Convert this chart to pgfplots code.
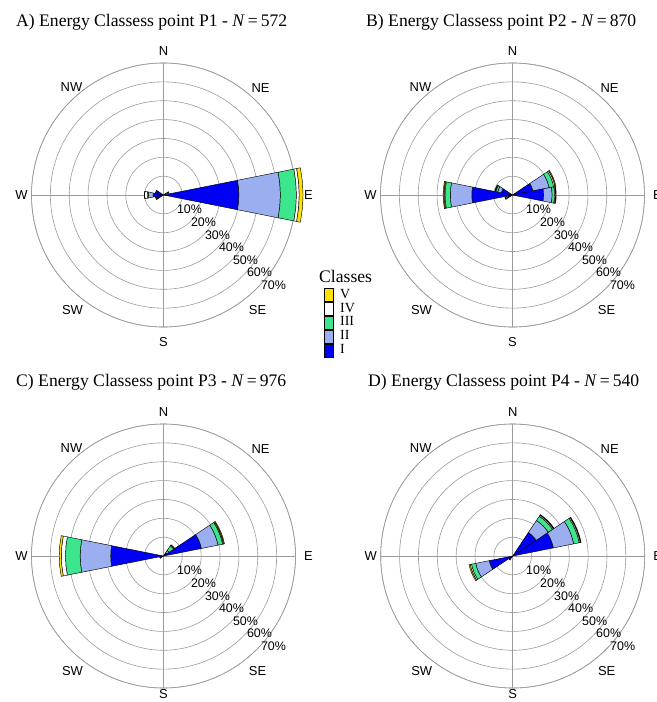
\documentclass[border=0pt]{standalone}
\usepackage{pgfplots}
\usepackage{pgfplotstable}
\pgfplotsset{compat=1.18}
\usepgfplotslibrary{polar}
\usepackage{fontspec}
\setmainfont{Liberation Serif}
\newfontfamily\arialf{Liberation Sans}

\definecolor{cI}{RGB}{0,0,245}
\definecolor{cII}{RGB}{155,175,240}
\definecolor{cIII}{RGB}{60,230,140}
\definecolor{cIV}{RGB}{255,255,255}
\definecolor{cV}{RGB}{255,225,0}
\definecolor{gridc}{RGB}{155,155,155}

% cumulative percentages per class (I..V), dir = compass degrees
\pgfplotstableread{
dir I II III IV V
90 40 62 70.5 72 74
270 5.5 8 8.5 10 10.2
292.5 4 4.3 4.3 4.3 4.3
247.5 4 4.3 4.3 4.3 4.3
67.5 1.5 2.3 3 3 3
}\tabA
\pgfplotstableread{
dir I II III IV V
270 21.6 33 35.8 36.3 36.8
292.5 6 8 9 9.3 9.6
247.5 2.5 3.2 3.8 4 4.2
67.5 11 19.8 22.3 23 23.5
90 16.5 21 22.3 22.8 23.2
}\tabB
\pgfplotstableread{
dir I II III IV V
270 28 44.2 52 54.2 55.3
67.5 20.5 29.5 32 32.5 33
45 2 3.5 6.5 7 7.2
247.5 1.8 2 2 2 2
}\tabC
\pgfplotstableread{
dir I II III IV V
67.5 22 33 36 36.6 37
45 15 22.7 25.4 26 26.4
247.5 12.7 20 22.3 23 23.6
225 2 2.5 2.5 2.5 2.5
}\tabD

\newcommand{\sector}[4]{%
  \pgfmathsetmacro\aA{#1-11.25}%
  \pgfmathsetmacro\aB{#1-5.625}%
  \pgfmathsetmacro\aC{#1}%
  \pgfmathsetmacro\aD{#1+5.625}%
  \pgfmathsetmacro\aE{#1+11.25}%
  \edef\sectorcmd{\noexpand\addplot[forget plot, draw=black, line width=0.45pt, fill=#4, line join=round] coordinates {(\aA,#2) (\aA,#3) (\aB,#3) (\aC,#3) (\aD,#3) (\aE,#3) (\aE,#2) (\aD,#2) (\aC,#2) (\aB,#2) (\aA,#2)};}%
  \sectorcmd}
\newcommand{\petal}[6]{%
  \pgfmathsetmacro\petalth{90-#1}%
  \sector{\petalth}{0}{#2}{cI}%
  \sector{\petalth}{#2}{#3}{cII}%
  \sector{\petalth}{#3}{#4}{cIII}%
  \sector{\petalth}{#4}{#5}{cIV}%
  \sector{\petalth}{#5}{#6}{cV}}
\newcommand{\drawrose}[1]{%
  \pgfplotstablegetrowsof{#1}%
  \pgfmathtruncatemacro\lastrow{\pgfplotsretval-1}%
  \pgfplotsforeachungrouped \rr in {0,...,\lastrow}{%
    \pgfplotstablegetelem{\rr}{dir}\of{#1}\let\pD\pgfplotsretval
    \pgfplotstablegetelem{\rr}{I}\of{#1}\let\pA\pgfplotsretval
    \pgfplotstablegetelem{\rr}{II}\of{#1}\let\pB\pgfplotsretval
    \pgfplotstablegetelem{\rr}{III}\of{#1}\let\pC\pgfplotsretval
    \pgfplotstablegetelem{\rr}{IV}\of{#1}\let\pE\pgfplotsretval
    \pgfplotstablegetelem{\rr}{V}\of{#1}\let\pF\pgfplotsretval
    \petal{\pD}{\pA}{\pB}{\pC}{\pE}{\pF}}}

\pgfplotsset{rose/.style={
  scale only axis, width=264bp, height=264bp,
  ymin=0, ymax=70,
  xtick={0,90,180,270}, xticklabels={}, xticklabel={\mbox{}},
  ytick={10,20,...,70}, yticklabels={}, yticklabel={\mbox{}},
  grid=major, major grid style={gridc, line width=0.6pt},
  axis line style={gridc, line width=0.6pt},
  major tick length=0pt,
  clip=false, anchor=center,
}}

\newcommand{\decor}[3]{%
 \begin{scope}[shift={(#1bp,-#2bp)}, font=\arialf\fontsize{13}{13}\selectfont]
  \node at (0bp,144bp) {N};
  \node at (0bp,#3bp) {S};
  \node at (145bp,0bp) {E};
  \node at (-142bp,0bp) {W};
  \node at (97bp,107bp) {NE};
  \node at (-92bp,108bp) {NW};
  \node at (94bp,-115bp) {SE};
  \node at (-91bp,-115bp) {SW};
 \end{scope}
 \begin{scope}[shift={(#1bp,-#2bp)}, font=\arialf\fontsize{12.5}{12.5}\selectfont, inner sep=0pt]
  \node at (26bp,-14.6bp) {10\%};
  \node at (40bp,-27.2bp) {20\%};
  \node at (54bp,-39.8bp) {30\%};
  \node at (68bp,-52.4bp) {40\%};
  \node at (82bp,-65bp) {50\%};
  \node at (96bp,-77.6bp) {60\%};
  \node at (110bp,-90.2bp) {70\%};
 \end{scope}}

\begin{document}
\begin{tikzpicture}
\path[use as bounding box] (0,0) rectangle (657bp,-702bp);

\begin{polaraxis}[rose, at={(163.5bp,-195bp)},
  legend style={at={(axis description cs:1.109,0.1477)}, anchor=north west,
    draw=none, fill=none, inner sep=0pt, outer sep=0pt, row sep=0pt,
    font=\fontsize{14}{14}\selectfont,
    nodes={inner sep=0pt, text height=9.9bp, text depth=3.5bp},
    /tikz/every odd column/.append style={column sep=7bp}},
  legend cell align=left,
  legend image code/.code={\draw[#1, line width=0.5pt] (0bp,-6.7bp) rectangle (8.4bp,6.7bp);}]
\drawrose{\tabA}
\addlegendimage{fill=cV, draw=black}\addlegendentry{V}
\addlegendimage{fill=cIV, draw=black}\addlegendentry{IV}
\addlegendimage{fill=cIII, draw=black}\addlegendentry{III}
\addlegendimage{fill=cII, draw=black}\addlegendentry{II}
\addlegendimage{fill=cI, draw=black}\addlegendentry{I}
\end{polaraxis}

\begin{polaraxis}[rose, at={(512.5bp,-195bp)}]
\drawrose{\tabB}
\end{polaraxis}

\begin{polaraxis}[rose, at={(163.5bp,-556bp)}]
\drawrose{\tabC}
\end{polaraxis}

\begin{polaraxis}[rose, at={(512.7bp,-556bp)}]
\drawrose{\tabD}
\end{polaraxis}

\decor{163.5}{195}{-147}
\decor{512.5}{195}{-147}
\decor{163.5}{556}{-138}
\decor{512.7}{556}{-138}

\node[anchor=base west, font=\fontsize{17.7}{17.7}\selectfont, inner sep=0pt] at (16bp,-26bp) {A) Energy Classess point P1 - \textit{N}\,=\,572};
\node[anchor=base west, font=\fontsize{17.7}{17.7}\selectfont, inner sep=0pt] at (366bp,-26bp) {B) Energy Classess point P2 - \textit{N}\,=\,870};
\node[anchor=base west, font=\fontsize{17.7}{17.7}\selectfont, inner sep=0pt] at (16bp,-386bp) {C) Energy Classess point P3 - \textit{N}\,=\,976};
\node[anchor=base west, font=\fontsize{17.7}{17.7}\selectfont, inner sep=0pt] at (368bp,-386bp) {D) Energy Classess point P4 - \textit{N}\,=\,540};
\node[anchor=base west, font=\fontsize{17.7}{17.7}\selectfont, inner sep=0pt] at (319bp,-282bp) {Classes};
\end{tikzpicture}
\end{document}
